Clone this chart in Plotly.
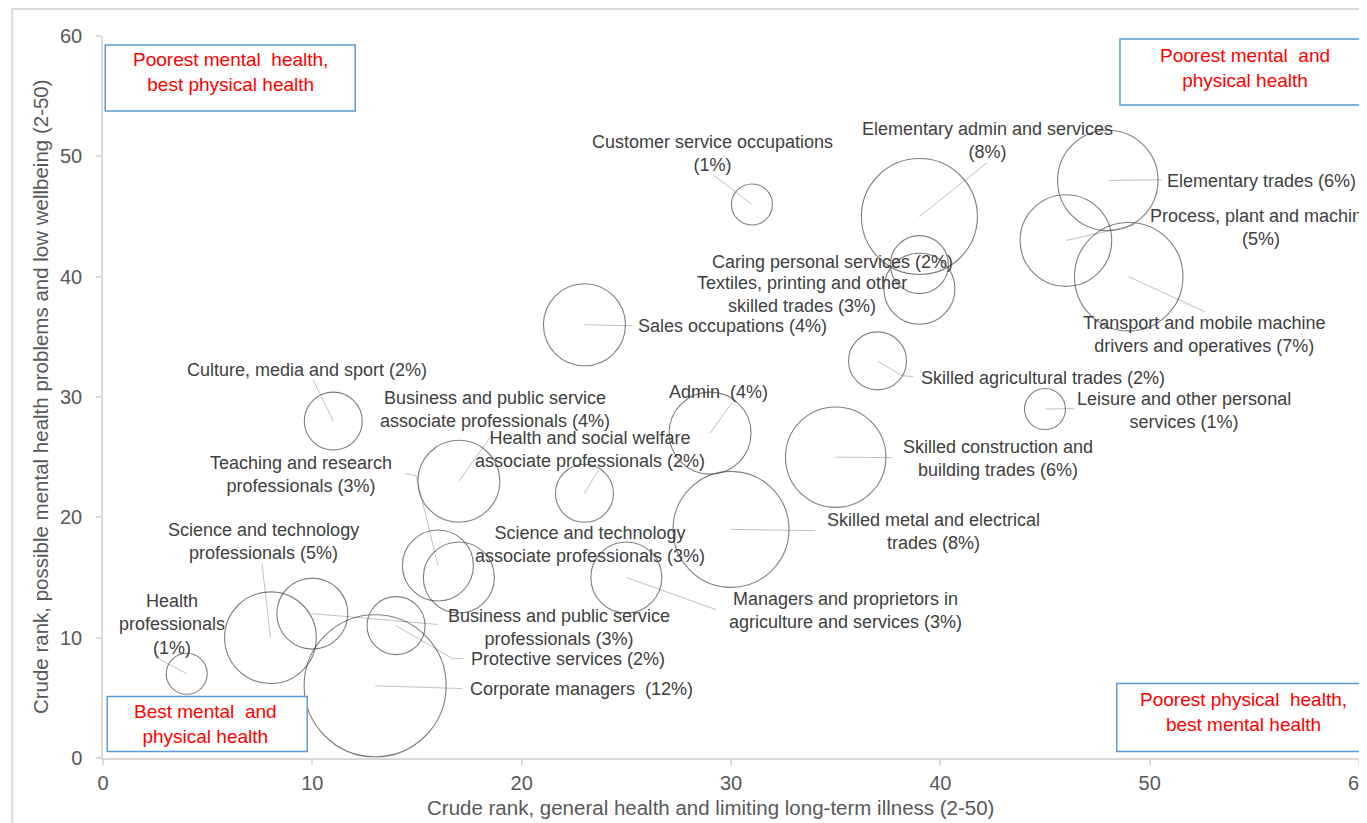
import plotly.graph_objects as go

# ---------------- data ----------------
occupations = [
    "Health professionals",
    "Science and technology professionals",
    "Business and public service professionals",
    "Protective services",
    "Corporate managers",
    "Teaching and research professionals",
    "Science and technology associate professionals",
    "Business and public service associate professionals",
    "Health and social welfare associate professionals",
    "Culture, media and sport",
    "Sales occupations",
    "Customer service occupations",
    "Elementary admin and services",
    "Caring personal services",
    "Textiles, printing and other skilled trades",
    "Skilled agricultural trades",
    "Admin",
    "Skilled construction and building trades",
    "Skilled metal and electrical trades",
    "Leisure and other personal services",
    "Elementary trades",
    "Process, plant and machine operatives",
    "Transport and mobile machine drivers and operatives",
    "Managers and proprietors in agriculture and services",
]
share_pct = [1, 5, 3, 2, 12, 3, 3, 4, 2, 2, 4, 1, 8, 2, 3, 2, 4, 6, 8, 1, 6, 5, 7, 3]
physical_rank = [4, 8, 10, 14, 13, 16, 17, 17, 23, 11, 23, 31, 39, 39, 39, 37, 29, 35, 30, 45, 48, 46, 49, 25]
mental_rank = [7, 10, 12, 11, 6, 16, 15, 23, 22, 28, 36, 46, 45, 41, 39, 33, 27, 25, 19, 29, 48, 43, 40, 15]

label_text = [
    "Health<br>professionals<br>(1%)",
    "Science and technology<br>professionals (5%)",
    "Business and public service<br>professionals (3%)",
    "Protective services (2%)",
    "Corporate managers  (12%)",
    "Teaching and research<br>professionals (3%)",
    "Science and technology<br>associate professionals (3%)",
    "Business and public service<br>associate professionals (4%)",
    "Health and social welfare<br>associate professionals (2%)",
    "Culture, media and sport (2%)",
    "Sales occupations (4%)",
    "Customer service occupations<br>(1%)",
    "Elementary admin and services<br>(8%)",
    "Caring personal services (2%)",
    "Textiles, printing and other<br>skilled trades (3%)",
    "Skilled agricultural trades (2%)",
    "Admin  (4%)",
    "Skilled construction and<br>building trades (6%)",
    "Skilled metal and electrical<br>trades (8%)",
    "Leisure and other personal<br>services (1%)",
    "Elementary trades (6%)",
    "Process, plant and machine<br>(5%)",
    "Transport and mobile machine<br>drivers and operatives (7%)",
    "Managers and proprietors in<br>agriculture and services (3%)",
]

x_title = "Crude rank, general health and limiting long-term illness (2-50)"
y_title = "Crude rank, possible mental health problems and low wellbeing (2-50)"
axis_ticks = [0, 10, 20, 30, 40, 50, 60]

quadrant_text = [
    "Poorest mental  health,<br>best physical health",
    "Poorest mental  and<br>physical health",
    "Best mental  and<br>physical health",
    "Poorest physical  health,<br>best mental health",
]

# ---------------- label layout (data units) ----------------
# (label x, label y, anchor, leader waypoints after bubble centre)
label_layout = [
    (3.3, 11.1, "center", [(2.5, 8.4)]),
    (7.65, 18.0, "center", [(7.6, 16.1)]),
    (21.8, 10.85, "center", [(15.97, 11.1)]),
    (22.2, 8.26, "center", [(16.7, 8.26), (17.2, 8.26)]),
    (22.85, 5.7, "center", [(17.16, 5.77)]),
    (9.47, 23.55, "center", [(14.96, 23.46), (14.44, 23.63)]),
    (23.27, 17.73, "center", []),
    (18.73, 28.95, "center", [(18.59, 26.87)]),
    (23.27, 25.65, "center", [(23.65, 23.88)]),
    (9.76, 32.27, "center", [(10.04, 31.44)]),
    (25.47, 35.92, "left", [(25.28, 35.92)]),
    (29.1, 50.2, "center", [(29.14, 48.47)]),
    (42.23, 51.29, "center", [(42.23, 49.46)]),
    (34.87, 41.24, "center", []),
    (33.4, 38.5, "center", []),
    (38.99, 31.6, "left", [(38.17, 31.77), (38.7, 31.7)]),
    (29.39, 30.44, "center", [(30.05, 29.53)]),
    (42.76, 24.88, "center", [(37.69, 24.96)]),
    (39.65, 18.81, "center", [(34.02, 18.89)]),
    (51.64, 28.86, "center", [(46.39, 29.03)]),
    (50.73, 47.97, "left", [(50.59, 48.05)]),
    (55.32, 44.06, "center", [(49.3, 44.31)]),
    (52.59, 35.17, "center", [(52.64, 37.08)]),
    (35.45, 12.25, "center", [(29.29, 12.33)]),
]

FONT = "Liberation Sans, Arial, sans-serif"
AXIS_GREY = "#d9d9d9"
TEXT_GREY = "#595959"
LABEL_GREY = "#404040"

fig = go.Figure()
fig.add_trace(go.Scatter(
    x=physical_rank,
    y=mental_rank,
    mode="markers",
    text=occupations,
    customdata=share_pct,
    hovertemplate="%{text} (%{customdata}%)<extra></extra>",
    marker=dict(
        size=share_pct,
        sizemode="area",
        sizeref=2 / 1681,
        color="rgba(0,0,0,0)",
        line=dict(color="#4a4a4a", width=1.1),
    ),
    showlegend=False,
))

shapes = []
annotations = []
for i, (lx, ly, anchor, pts) in enumerate(label_layout):
    if pts:
        path_pts = [(physical_rank[i], mental_rank[i])] + pts
        d = "M " + " L ".join(f"{px},{py}" for px, py in path_pts)
        shapes.append(dict(type="path", path=d, xref="x", yref="y",
                           line=dict(color="#c0c0c0", width=1), layer="below"))
    annotations.append(dict(
        x=lx, y=ly, xref="x", yref="y", text=label_text[i], showarrow=False,
        xanchor=anchor, yanchor="middle", align="center",
        font=dict(family=FONT, size=18, color=LABEL_GREY),
    ))

# quadrant boxes (paper coords)
boxes = [
    (0.0018, 0.2008, 0.8962, 0.9875, 0.1013, 0.9502),
    (0.8097, 1.04, 0.9046, 0.9959, 0.909, 0.9557),
    (0.0034, 0.1626, 0.009, 0.0851, 0.0814, 0.047),
    (0.8072, 1.04, 0.009, 0.1031, 0.9083, 0.0644),
]
for (x0, x1, y0, y1, tx, ty), txt in zip(boxes, quadrant_text):
    shapes.append(dict(type="rect", xref="paper", yref="paper", x0=x0, x1=x1, y0=y0, y1=y1,
                       line=dict(color="#5b9bd5", width=1.5), fillcolor="white", layer="above"))
    annotations.append(dict(x=tx, y=ty, xref="paper", yref="paper", text=txt, showarrow=False,
                            xanchor="center", yanchor="middle", align="center",
                            font=dict(family=FONT, size=19, color="#ff0000")))

# outer chart border
shapes.append(dict(type="rect", xref="paper", yref="paper", x0=-0.0722, x1=1.06, y0=-0.12, y1=1.0374,
                   line=dict(color=AXIS_GREY, width=2), layer="below"))

# axis titles
annotations.append(dict(x=0.484, y=-0.0685, xref="paper", yref="paper", text=x_title, showarrow=False,
                        xanchor="center", yanchor="middle",
                        font=dict(family=FONT, size=20.5, color=TEXT_GREY)))
annotations.append(dict(x=-0.0499, y=0.5003, xref="paper", yref="paper", text=y_title, showarrow=False,
                        textangle=-90, xanchor="center", yanchor="middle",
                        font=dict(family=FONT, size=20.5, color=TEXT_GREY)))

axis_common = dict(
    range=[0, 60], tickvals=axis_ticks, ticktext=[str(t) for t in axis_ticks],
    showgrid=False, zeroline=False, showline=True, linecolor=AXIS_GREY, linewidth=1.5,
    ticks="outside", ticklen=5, tickcolor=AXIS_GREY, tickwidth=1.5,
    tickfont=dict(family=FONT, size=20, color=TEXT_GREY),
    ticklabeloverflow="allow",
)

fig.update_layout(
    width=1359, height=815,
    margin=dict(l=94.7, r=7.7, t=28, b=64.5, autoexpand=False),
    paper_bgcolor="white", plot_bgcolor="white",
    xaxis=dict(**axis_common, ticklabelstandoff=1),
    yaxis=dict(**axis_common, ticklabelstandoff=10),
    shapes=shapes,
    annotations=annotations,
    font=dict(family=FONT),
)

fig.write_html("out.html")
